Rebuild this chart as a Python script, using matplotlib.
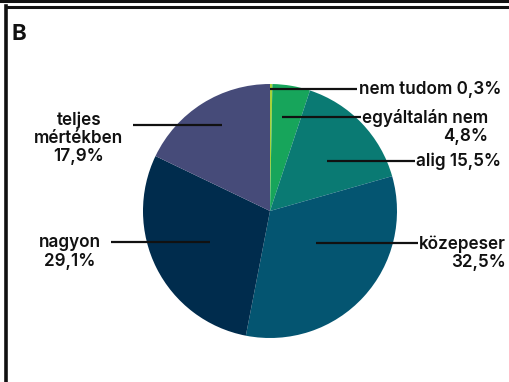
import matplotlib
matplotlib.use("Agg")
import matplotlib.pyplot as plt
from matplotlib.lines import Line2D

# Survey answers, clockwise from the top
categories = ["nem tudom", "egyáltalán nem", "alig", "közepeser", "nagyon", "teljes\nmértékben"]
shares = [0.3, 4.8, 15.5, 32.5, 29.1, 17.9]
colors = ["#a6d23a", "#17a55b", "#0a7a73", "#045571", "#002c4d", "#464b79"]

W, H = 509, 382
fig = plt.figure(figsize=(W / 100, H / 100), dpi=100)
ax = fig.add_axes([0, 0, 1, 1])

# pie (screen coordinates: y grows downward, so flip angles)
cx, cy, r = 270, 211, 127
wedges, _ = ax.pie(shares, colors=colors, startangle=-90, counterclock=True,
                   center=(cx, cy), radius=r, frame=True,
                   wedgeprops=dict(linewidth=0))
ax.set_xlim(0, W)
ax.set_ylim(H, 0)
ax.set_aspect("equal")
ax.axis("off")

def fmt(v):
    return f"{v:.1f}".replace(".", ",") + "%"

font = dict(family=["Inter", "DejaVu Sans"], fontsize=12.3, fontweight="semibold", color="#111111")

# label layout: (line start, line end, text anchor, ha, multialignment, text)
labels = [
    ((270, 89), (357, 89), (359, 89), "left", "left", f"{categories[0]} {fmt(shares[0])}"),
    ((282, 117), (361, 117), (362, 127), "left", "right", f"{categories[1]}\n{fmt(shares[1])}"),
    ((327, 161), (415, 161), (416, 161), "left", "left", f"{categories[2]} {fmt(shares[2])}"),
    ((316, 243), (418, 243), (419, 253), "left", "right", f"{categories[3]}\n{fmt(shares[3])}"),
    ((210, 242), (111, 242), (101, 252), "right", "center", f"{categories[4]}\n{fmt(shares[4])}"),
    ((222, 125), (133, 125), (79, 138), "center", "center", f"{categories[5]}\n{fmt(shares[5])}"),
]
for (x0, y0), (x1, y1), (tx, ty), ha, ma, txt in labels:
    ax.add_line(Line2D([x0, x1], [y0, y1], color="#111111", lw=1.6, solid_capstyle="butt"))
    ax.text(tx, ty, txt, ha=ha, va="center", multialignment=ma, linespacing=1.08, **font)

# panel letter
ax.text(12, 40, "B", family=["Inter", "DejaVu Sans"], fontsize=16, fontweight="bold",
        color="#111111", ha="left", va="baseline")

# frame lines
ax.add_line(Line2D([0, W], [1, 1], color="#111111", lw=2.2))
ax.add_line(Line2D([6, W], [6.5, 6.5], color="#111111", lw=2.2))
ax.add_line(Line2D([6.5, 6.5], [6, H], color="#111111", lw=2.6))

fig.savefig("out.png", dpi=100, facecolor="white")
